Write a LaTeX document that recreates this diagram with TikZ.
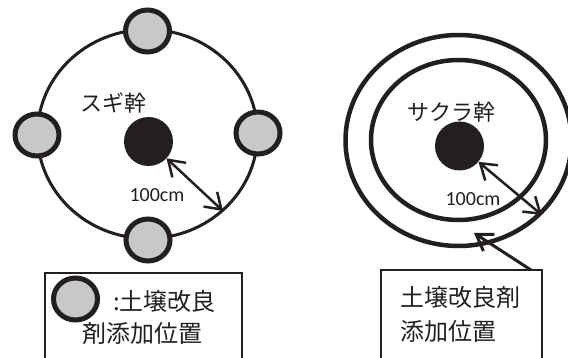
\documentclass[tikz,border=0pt]{standalone}
\usepackage{fontspec}
\setmainfont{Carlito}
\newfontfamily\jp{Noto Sans CJK JP}
\usetikzlibrary{shapes.geometric,arrows.meta}
\definecolor{ink}{HTML}{231F20}
\definecolor{sitegray}{HTML}{C7C8CA}
\tikzset{
  ring/.style={draw=ink, ellipse, inner sep=0pt},
  site/.style={draw=ink, fill=sitegray, ellipse, line width=5pt, inner sep=0pt, minimum width=44pt, minimum height=42pt},
  trunk/.style={fill=ink, circle, inner sep=0pt, minimum size=49pt},
  dist/.style={ink, line width=2.5pt, {Straight Barb[length=15pt,width=20pt]}-{Straight Barb[length=15pt,width=20pt]}},
  pointer/.style={ink, line width=3pt, -{Straight Barb[length=15pt,width=20pt]}},
  lbl/.style={font=\jp\fontsize{22pt}{26pt}\selectfont, text=ink, inner sep=0pt},
  boxtxt/.style={font=\jp\fontsize{24pt}{28pt}\selectfont, text=ink, inner sep=0pt},
  num/.style={font=\fontsize{20pt}{24pt}\selectfont, text=ink, inner sep=0pt},
  legendbox/.style={draw=ink, line width=2.7pt}
}
\begin{document}
\begin{tikzpicture}[x=1pt,y=-1pt]
\useasboundingbox (0,0) rectangle (568,358);
% ---------- left: Sugi ----------
\node[ring, line width=3pt, minimum width=220pt, minimum height=209pt] (big) at (147.5,134) {};
\node[site] (stop) at (147.5,31) {};
\node[site] (sleft) at (37,135) {};
\node[site] (sright) at (258,133) {};
\node[site] (sbot) at (148,240) {};
\node[trunk] (ldot) at (148.5,141.5) {};
\node[lbl] (sugi) at (113,103) {スギ幹};
\node[num] (ldist) at (157,195) {100cm};
\coordinate (lend) at (223,211);
\draw[dist] (ldot) -- (lend);
% legend box left
\draw[legendbox] (45,273) rectangle (242,366);
\node[site] (legsite) at (75.5,299) {};
\node[boxtxt, anchor=west] (leg1) at (113,301) {:土壌改良};
\node[boxtxt] (leg2) at (142,333) {剤添加位置};
% ---------- right: Sakura ----------
\node[ring, line width=4.5pt, minimum width=226pt, minimum height=211pt] (outer) at (458.5,140.5) {};
\node[ring, line width=4.5pt, minimum width=175pt, minimum height=160pt] (inner) at (458.5,140) {};
\node[trunk] (rdot) at (459.5,146) {};
\node[lbl] (sakura) at (451,112) {サクラ幹};
\node[num] (rdist) at (473,199) {100cm};
\coordinate (rend) at (542,215);
\draw[dist] (rdot) -- (rend);
% legend box right
\draw[legendbox] (381,270) rectangle (542,366);
\node[boxtxt, anchor=west] (rb1) at (400,297) {土壌改良剤};
\node[boxtxt, anchor=west] (rb2) at (400,331) {添加位置};
\coordinate (pstart) at (531,270);
\coordinate (ptip) at (474,233);
\draw[pointer] (pstart) -- (ptip);
\end{tikzpicture}
\end{document}
